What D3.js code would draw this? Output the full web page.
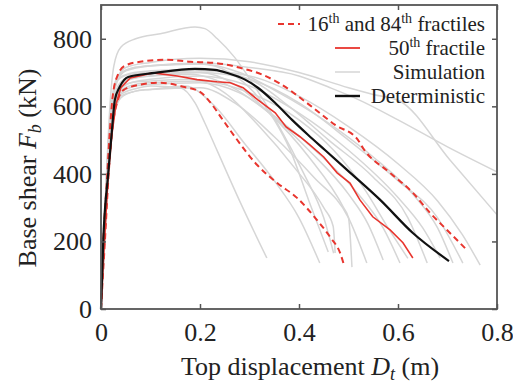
<!DOCTYPE html>
<html>
<head>
<meta charset="utf-8">
<script src="https://cdn.jsdelivr.net/npm/d3@7/dist/d3.min.js"></script>
<style>
  html, body { margin: 0; padding: 0; background: #fff; }
  svg { display: block; }
  text { font-family: "Liberation Serif", "Times New Roman", serif; fill: #222; }
</style>
</head>
<body>
<svg id="chart" width="513" height="383"></svg>
<script>
// ---- Data ----
const xTicks = [0, 0.2, 0.4, 0.6, 0.8];
const xTickLabels = ["0", "0.2", "0.4", "0.6", "0.8"];
const yTicks = [0, 200, 400, 600, 800];
const yTickLabels = ["0", "200", "400", "600", "800"];

const legendLabels = ["16th and 84th fractiles", "50th fractile", "Simulation", "Deterministic"];

const deterministic = [[0,0],[0.0046,204],[0.0147,403],[0.0216,521],[0.028,619],[0.038,658],[0.055,687],[0.109,699],[0.19,711],[0.23,708],[0.257,698],[0.291,679],[0.317,655],[0.352,610],[0.386,560],[0.418,516],[0.453,470],[0.497,412],[0.564,323],[0.63,225],[0.703,142]];

const fractile50 = [[0,0],[0.006,175],[0.014,382],[0.022,516],[0.03,604],[0.04,655],[0.059,684],[0.105,699],[0.154,690],[0.194,679],[0.234,673],[0.261,670],[0.287,655],[0.317,619],[0.352,581],[0.374,539],[0.402,510],[0.422,486],[0.45,450],[0.477,403],[0.503,373],[0.523,323],[0.549,273],[0.584,234],[0.61,196],[0.63,151]];

const fractile84 = [[0,0],[0.004,175],[0.012,382],[0.018,530],[0.024,634],[0.034,693],[0.048,720],[0.079,732],[0.133,738],[0.18,732],[0.226,729],[0.281,714],[0.327,693],[0.362,667],[0.416,610],[0.473,545],[0.519,501],[0.529,477],[0.584,403],[0.63,344],[0.665,284],[0.699,234],[0.739,175]];

const fractile16 = [[0,0],[0.008,204],[0.016,412],[0.024,545],[0.034,619],[0.046,649],[0.079,664],[0.119,670],[0.166,658],[0.2,643],[0.22,613],[0.246,560],[0.275,501],[0.315,427],[0.356,373],[0.396,329],[0.436,264],[0.463,213],[0.483,166],[0.491,130]];

const sim01 = [[0,0],[0.006,230],[0.012,430],[0.018,600],[0.026,720],[0.04,775],[0.07,800],[0.12,815],[0.19,835],[0.21,830],[0.235,800],[0.27,745],[0.31,660],[0.36,540],[0.41,400],[0.45,270],[0.47,165]];
const sim02 = [[0,0],[0.007,260],[0.014,470],[0.022,610],[0.032,680],[0.05,715],[0.1,730],[0.2,742],[0.3,732],[0.4,700],[0.5,655],[0.55,635],[0.604,615],[0.705,441],[0.8,279]];
const sim03 = [[0,0],[0.007,250],[0.014,460],[0.022,600],[0.032,670],[0.05,705],[0.1,720],[0.2,728],[0.3,715],[0.4,690],[0.463,655],[0.52,620],[0.6,560],[0.7,480],[0.8,406]];
const sim04 = [[0,0],[0.007,245],[0.015,460],[0.024,600],[0.036,665],[0.06,690],[0.1,700],[0.2,705],[0.3,690],[0.4,630],[0.5,540],[0.6,430],[0.68,320],[0.73,220],[0.766,130]];
const sim05 = [[0,0],[0.007,240],[0.015,455],[0.024,590],[0.036,655],[0.06,680],[0.1,690],[0.2,700],[0.3,680],[0.4,610],[0.5,500],[0.6,380],[0.68,270],[0.731,136]];
const sim06 = [[0,0],[0.007,255],[0.014,470],[0.022,615],[0.034,690],[0.06,712],[0.1,720],[0.2,725],[0.28,700],[0.36,640],[0.45,560],[0.55,450],[0.63,340],[0.68,240],[0.711,136]];
const sim07 = [[0,0],[0.007,235],[0.015,445],[0.024,585],[0.036,645],[0.06,670],[0.1,680],[0.2,690],[0.3,660],[0.4,580],[0.5,470],[0.6,330],[0.65,240],[0.685,151]];
const sim08 = [[0,0],[0.007,250],[0.014,465],[0.022,605],[0.034,680],[0.06,698],[0.1,705],[0.2,710],[0.3,680],[0.38,600],[0.46,500],[0.55,390],[0.62,270],[0.659,136]];
const sim09 = [[0,0],[0.008,230],[0.016,440],[0.026,580],[0.04,640],[0.07,660],[0.1,665],[0.2,670],[0.28,640],[0.36,560],[0.44,460],[0.52,340],[0.57,240],[0.604,136]];
const sim10 = [[0,0],[0.007,245],[0.015,455],[0.024,595],[0.036,660],[0.06,683],[0.1,690],[0.18,695],[0.26,660],[0.34,580],[0.42,470],[0.5,340],[0.54,250],[0.57,145]];
const sim11 = [[0,0],[0.008,225],[0.016,430],[0.026,570],[0.04,625],[0.07,645],[0.1,650],[0.2,655],[0.27,610],[0.35,510],[0.43,390],[0.5,270],[0.537,136]];
const sim12 = [[0,0],[0.007,250],[0.014,462],[0.022,605],[0.034,678],[0.06,695],[0.1,700],[0.2,700],[0.27,665],[0.34,580],[0.42,450],[0.49,300],[0.5,270],[0.507,124]];
const sim13 = [[0,0],[0.007,240],[0.015,450],[0.024,588],[0.036,650],[0.06,670],[0.1,675],[0.18,680],[0.25,640],[0.32,540],[0.39,420],[0.45,300],[0.469,245],[0.473,166]];
const sim14 = [[0,0],[0.008,228],[0.016,432],[0.026,572],[0.04,630],[0.07,645],[0.1,650],[0.17,660],[0.23,600],[0.29,490],[0.35,380],[0.4,270],[0.442,136]];
const sim15 = [[0,0],[0.007,255],[0.014,470],[0.022,612],[0.034,688],[0.06,712],[0.1,720],[0.2,725],[0.26,700],[0.31,640],[0.35,560],[0.382,471],[0.42,320],[0.459,169]];
const sim16 = [[0,0],[0.008,232],[0.016,438],[0.026,575],[0.04,635],[0.07,652],[0.1,660],[0.16,655],[0.19,610],[0.21,550],[0.234,471],[0.28,320],[0.335,151]];
const sim17 = [[0,0],[0.008,238],[0.016,445],[0.025,585],[0.038,645],[0.07,665],[0.1,670],[0.2,675],[0.3,640],[0.4,560],[0.47,470],[0.53,360],[0.58,240],[0.62,150]];

const simulations = [sim01, sim02, sim03, sim04, sim05, sim06, sim07, sim08, sim09, sim10, sim11, sim12, sim13, sim14, sim15, sim16, sim17];

// ---- Chart ----
const svg = d3.select("#chart");
const x = d3.scaleLinear().domain([0, 0.8]).range([101, 497]);
const y = d3.scaleLinear().domain([0, 900]).range([309, 5]);

const frameColor = "#555";
const red = "#e8352e";

const smooth = d3.line().x(d => x(d[0])).y(d => y(d[1])).curve(d3.curveMonotoneX);
const straight = d3.line().x(d => x(d[0])).y(d => y(d[1]));

const plot = svg.append("g");

plot.selectAll("path.sim").data(simulations).join("path")
  .attr("class", "sim")
  .attr("d", smooth)
  .attr("fill", "none")
  .attr("stroke", "#d6d6d6")
  .attr("stroke-width", 1.5);

plot.selectAll("path.frac").data([fractile16, fractile84]).join("path")
  .attr("class", "frac")
  .attr("d", smooth)
  .attr("fill", "none")
  .attr("stroke", red)
  .attr("stroke-width", 2)
  .attr("stroke-dasharray", "6,4");

plot.append("path").datum(fractile50)
  .attr("d", straight)
  .attr("fill", "none")
  .attr("stroke", red)
  .attr("stroke-width", 1.6);

plot.append("path").datum(deterministic)
  .attr("d", smooth)
  .attr("fill", "none")
  .attr("stroke", "#111")
  .attr("stroke-width", 2.2);

// axes
const fontSize = 26;
const xAxis = d3.axisBottom(x).tickValues(xTicks).tickFormat((d, i) => xTickLabels[i]).tickSize(-5).tickPadding(14);
const yAxis = d3.axisLeft(y).tickValues(yTicks).tickFormat((d, i) => yTickLabels[i]).tickSize(-5).tickPadding(9);
const xAxisTop = d3.axisTop(x).tickValues(xTicks).tickFormat("").tickSize(-5);
const yAxisRight = d3.axisRight(y).tickValues(yTicks).tickFormat("").tickSize(-5);

function styleAxis(g) {
  g.select(".domain").remove();
  g.selectAll(".tick line").attr("stroke", frameColor).attr("stroke-width", 1.5);
  g.selectAll(".tick text").attr("font-size", fontSize)
    .attr("font-family", "'Liberation Serif', 'Times New Roman', serif").attr("fill", "#222");
}

svg.append("g").attr("transform", "translate(0,309)").call(xAxis).call(styleAxis);
svg.append("g").attr("transform", "translate(101,0)").call(yAxis).call(styleAxis);
svg.append("g").attr("transform", "translate(0,5)").call(xAxisTop).call(styleAxis);
svg.append("g").attr("transform", "translate(497,0)").call(yAxisRight).call(styleAxis);

svg.append("rect")
  .attr("x", 101).attr("y", 5).attr("width", 396).attr("height", 304)
  .attr("fill", "none").attr("stroke", frameColor).attr("stroke-width", 1.8);

// axis titles
const xt = svg.append("text").attr("x", 310).attr("y", 375).attr("text-anchor", "middle").attr("font-size", fontSize);
xt.append("tspan").text("Top displacement ");
xt.append("tspan").attr("font-style", "italic").text("D");
xt.append("tspan").attr("font-style", "italic").attr("font-size", 18).attr("dy", 5).text("t");
xt.append("tspan").attr("dy", -5).text(" (m)");

const yt = svg.append("text").attr("transform", "translate(36,168) rotate(-90)").attr("text-anchor", "middle").attr("font-size", fontSize);
yt.append("tspan").text("Base shear ");
yt.append("tspan").attr("font-style", "italic").text("F");
yt.append("tspan").attr("font-style", "italic").attr("font-size", 18).attr("dy", 5).text("b");
yt.append("tspan").attr("dy", -5).text(" (kN)");

// legend
const legFont = 21;
const rows = [24, 48, 72, 96];
const legX = 485;

// row 1
const l1 = svg.append("text").attr("x", legX).attr("y", rows[0] + 7).attr("text-anchor", "end").attr("font-size", legFont);
l1.append("tspan").text("16");
l1.append("tspan").attr("font-size", 14).attr("dy", -8).text("th");
l1.append("tspan").attr("dy", 8).text(" and 84");
l1.append("tspan").attr("font-size", 14).attr("dy", -8).text("th");
l1.append("tspan").attr("dy", 8).text(" fractiles");
svg.append("line").attr("x1", 278).attr("x2", 300).attr("y1", rows[0]).attr("y2", rows[0])
  .attr("stroke", red).attr("stroke-width", 2).attr("stroke-dasharray", "6,4");

// row 2
const l2 = svg.append("text").attr("x", legX).attr("y", rows[1] + 7).attr("text-anchor", "end").attr("font-size", legFont);
l2.append("tspan").text("50");
l2.append("tspan").attr("font-size", 14).attr("dy", -8).text("th");
l2.append("tspan").attr("dy", 8).text(" fractile");
svg.append("line").attr("x1", 335).attr("x2", 360).attr("y1", rows[1]).attr("y2", rows[1])
  .attr("stroke", red).attr("stroke-width", 1.8);

// row 3
svg.append("text").attr("x", legX).attr("y", rows[2] + 7).attr("text-anchor", "end").attr("font-size", legFont).text(legendLabels[2]);
svg.append("line").attr("x1", 335).attr("x2", 360).attr("y1", rows[2]).attr("y2", rows[2])
  .attr("stroke", "#d6d6d6").attr("stroke-width", 1.5);

// row 4
svg.append("text").attr("x", legX).attr("y", rows[3] + 7).attr("text-anchor", "end").attr("font-size", legFont).text(legendLabels[3]);
svg.append("line").attr("x1", 335).attr("x2", 360).attr("y1", rows[3]).attr("y2", rows[3])
  .attr("stroke", "#111").attr("stroke-width", 2.4);
</script>
</body>
</html>
